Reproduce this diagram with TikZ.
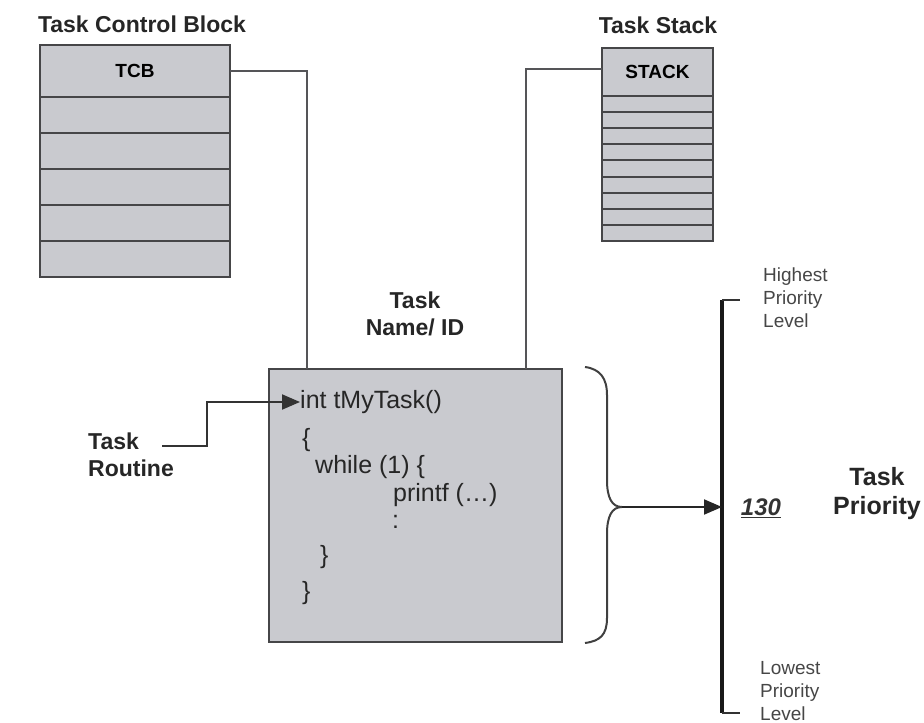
\documentclass[tikz,border=0pt]{standalone}
\usepackage{fontspec}
\setmainfont{Liberation Sans}
\usetikzlibrary{arrows.meta,calc}
\definecolor{boxfill}{RGB}{201,202,207}
\definecolor{edge}{RGB}{70,70,72}
\definecolor{wire}{RGB}{85,85,88}
\definecolor{small}{RGB}{70,70,70}
\tikzset{
  cell/.style={draw=edge, line width=2pt, fill=boxfill, inner sep=0pt, outer sep=0pt},
  lbl/.style={font=\fontsize{23}{27}\selectfont\bfseries, text=black!85, inner sep=0pt},
  code/.style={font=\fontsize{25}{29}\selectfont, text=black!85, inner sep=0pt, anchor=west},
  tiny/.style={font=\fontsize{19}{23}\selectfont, text=small, inner sep=0pt, align=left, anchor=west},
  wireline/.style={draw=wire, line width=2pt},
  tip/.style={-{Triangle[length=18pt,width=15pt]}}
}
\begin{document}
\begin{tikzpicture}[x=1pt,y=-1pt]
\useasboundingbox (0,0) rectangle (924,723);
% titles
\node[lbl] (tcbtitle) at (142,24) {Task Control Block};
\node[lbl] (stacktitle) at (658,25) {Task Stack};
% TCB block
\node[cell, minimum width=190pt, minimum height=52pt,
      font=\fontsize{19}{22}\selectfont\bfseries] (tcb) at (135,71) {TCB};
\foreach \i in {1,...,5}{
  \node[cell, minimum width=190pt, minimum height=36pt] (tcbrow\i) at (135,{97+36*\i-18}) {};
}
% Stack block
\node[cell, minimum width=111pt, minimum height=48pt,
      font=\fontsize{19}{22}\selectfont\bfseries] (stk) at (657.5,72) {STACK};
\foreach \i in {1,...,9}{
  \node[cell, minimum width=111pt, minimum height=16.1pt] (stkrow\i) at (657.5,{96+16.1*\i-8.05}) {};
}
% Task name label
\node[lbl, align=center] (tname) at (415,314) {Task\\Name/ ID};
% Task box
\node[cell, minimum width=293pt, minimum height=273pt] (task) at (415.5,505.5) {};
\coordinate (tcbin) at (307,369);
\coordinate (stkin) at (526,369);
\draw[wireline] (tcb.east) -| (tcbin);
\draw[wireline] (stk.west |- 0,69) -| (stkin);
% code
\node[code] (c1) at (300,402) {int tMyTask()};
\node[code] (c2) at (302,440) {\{};
\node[code] (c3) at (315,467) {while (1) \{};
\node[code] (c4) at (393,495) {printf (…)};
\node[code] (c5) at (392,522) {:};
\node[code] (c6) at (320,557) {\}};
\node[code] (c7) at (302,593) {\}};
% routine label and arrow
\node[lbl, align=left, anchor=west] (routine) at (88,455) {Task\\Routine};
\coordinate (rs) at (162,446);
\coordinate (rk) at (207,446);
\draw[draw=black!80, line width=2pt, tip] (rs) -- (rk) |- (c1.west);
% brace
\coordinate (btip) at (622,507);
\draw[draw=black!75, line width=2pt]
  (585,367) .. controls (600,369) and (607,378) .. (607,395)
  -- (607,480) .. controls (607,498) and (612,507) .. (btip)
  .. controls (612,507) and (607,516) .. (607,534)
  -- (607,618) .. controls (607,635) and (600,641) .. (585,643);
% priority axis
\coordinate (atop) at (722,300);
\coordinate (abot) at (722,713);
\coordinate (amid) at (722,507);
\draw[line width=4pt, black!90] (atop) -- (abot);
\draw[line width=2pt, black!80] (atop) -- ++(18,0);
\draw[line width=2pt, black!80] (abot) -- ++(18,0);
\draw[draw=black!85, line width=2pt, tip] (btip) -- (amid);
\node[tiny] (high) at (763,298) {Highest\\Priority\\Level};
\node[tiny] (low) at (760,691) {Lowest\\Priority\\Level};
\node[font=\fontsize{24}{28}\selectfont\bfseries\itshape, text=black!80, inner sep=0pt] (num) at (761,508) {\underline{130}};
\node[lbl, align=center, font=\fontsize{25}{29}\selectfont\bfseries] (tprio) at (877,494) {Task\\Priority};
\end{tikzpicture}
\end{document}
